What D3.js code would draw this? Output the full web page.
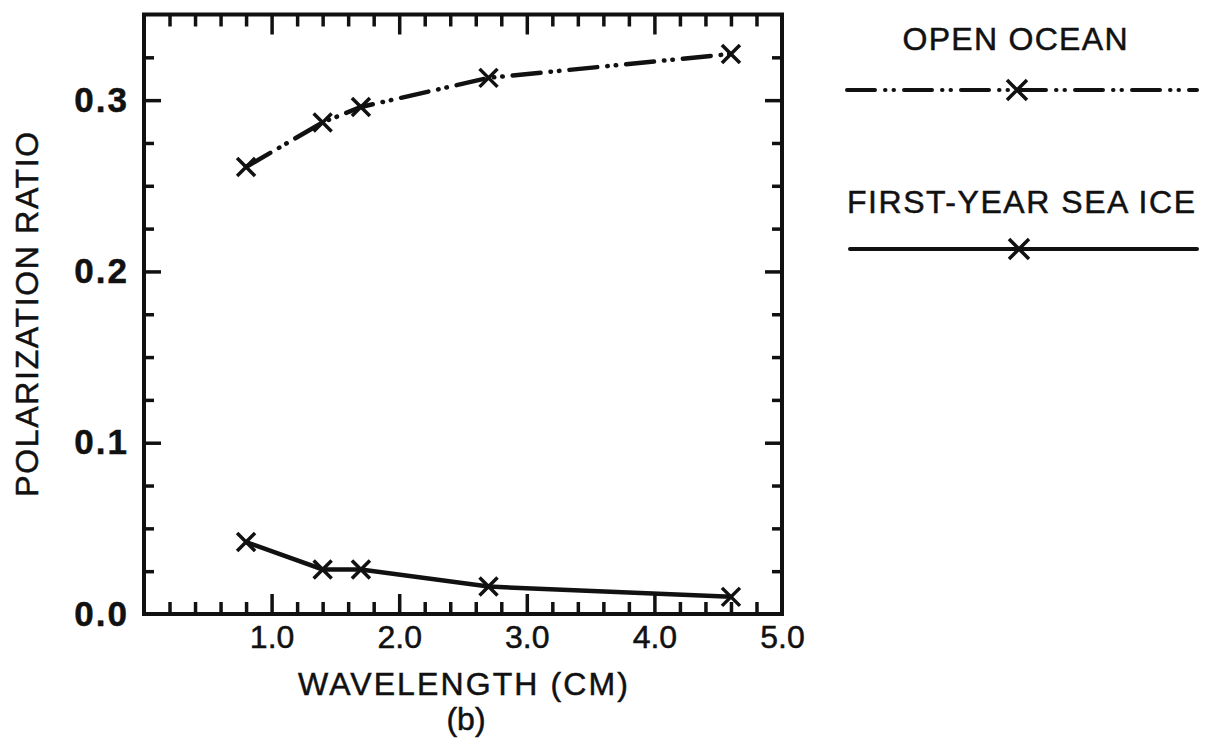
<!DOCTYPE html>
<html>
<head>
<meta charset="utf-8">
<script src="https://cdn.jsdelivr.net/npm/d3@7"></script>
<style>
  body { margin: 0; background: #fff; }
  text { font-family: "Liberation Sans", Arial, Helvetica, sans-serif; fill: #111; stroke: #111; stroke-width: 0.5; }
</style>
</head>
<body>
<svg id="Vis" width="1208" height="738"></svg>
<script>
// values
var wavelength = [0.8, 1.4, 1.7, 2.7, 4.6];
var openOcean  = [0.261, 0.287, 0.296, 0.313, 0.327];
var seaIce     = [0.042, 0.026, 0.026, 0.016, 0.010];

var xLabelTicks = [1, 2, 3, 4, 5];
var yLabelTicks = [0, 0.1, 0.2, 0.3];
var legendNames = ["OPEN OCEAN", "FIRST-YEAR SEA ICE"];

var svg = d3.select("#Vis");

var x = d3.scaleLinear().domain([0, 5]).range([144, 782]);
var y = d3.scaleLinear().domain([0, 0.35]).range([614, 14.5]);

var xMajor = [1, 2, 3, 4];
var xMinor = d3.range(1, 25).map(function(i){ return i * 0.2; })
               .filter(function(v){ return Math.abs(v - Math.round(v)) > 0.01; });
var yMajor = [0.1, 0.2, 0.3];
var yMinor = d3.range(1, 14).map(function(i){ return i * 0.025; })
               .filter(function(v){ return Math.abs(v * 10 - Math.round(v * 10)) > 0.01; });

var dashDotDot = "28 10 0.5 8 0.5 10";

function tickAxis(axisFn, scale, values, len){
  return axisFn(scale).tickValues(values).tickSizeInner(-len).tickSizeOuter(0).tickFormat("");
}

function addTicks(axis, tx, ty){
  var g = svg.append("g")
     .attr("transform", "translate(" + tx + "," + ty + ")")
     .call(axis);
  g.select(".domain").remove();
  g.selectAll("line").attr("stroke", "#111").attr("stroke-width", 3.5);
  return g;
}

// inward ticks on all four sides
addTicks(tickAxis(d3.axisBottom, x, xMinor, 12), 0, y(0));
addTicks(tickAxis(d3.axisBottom, x, xMajor, 20), 0, y(0));
addTicks(tickAxis(d3.axisTop, x, xMinor, 12), 0, y(0.35));
addTicks(tickAxis(d3.axisTop, x, xMajor, 20), 0, y(0.35));
addTicks(tickAxis(d3.axisLeft, y, yMinor, 10), x(0), 0);
addTicks(tickAxis(d3.axisLeft, y, yMajor, 17), x(0), 0);
addTicks(tickAxis(d3.axisRight, y, yMinor, 10), x(5), 0);
addTicks(tickAxis(d3.axisRight, y, yMajor, 17), x(5), 0);

// frame
svg.append("rect")
   .attr("x", x(0)).attr("y", y(0.35))
   .attr("width", x(5) - x(0)).attr("height", y(0) - y(0.35))
   .attr("fill", "none").attr("stroke", "#111").attr("stroke-width", 4);

// tick labels
var gx = svg.append("g")
   .attr("transform", "translate(0," + y(0) + ")")
   .call(d3.axisBottom(x).tickValues(xLabelTicks).tickSize(0).tickPadding(11).tickFormat(d3.format(".1f")));
gx.select(".domain").remove();
gx.selectAll("text").attr("font-size", 32).attr("font-family", null).attr("fill", null);

var gy = svg.append("g")
   .attr("transform", "translate(" + x(0) + ",0)")
   .call(d3.axisLeft(y).tickValues(yLabelTicks).tickSize(0).tickPadding(15).tickFormat(d3.format(".1f")));
gy.select(".domain").remove();
gy.selectAll("text").attr("font-size", 35).attr("font-weight", "bold")
   .attr("letter-spacing", 2).attr("font-family", null).attr("fill", null);

// axis titles
svg.append("text")
   .attr("x", 463).attr("y", 695)
   .attr("text-anchor", "middle").attr("font-size", 32)
   .attr("textLength", 330).attr("lengthAdjust", "spacing")
   .text("WAVELENGTH (CM)");

svg.append("text")
   .attr("x", 466).attr("y", 730)
   .attr("text-anchor", "middle").attr("font-size", 32)
   .text("(b)");

svg.append("text")
   .attr("transform", "translate(38," + (y(0) + y(0.35)) / 2 + ") rotate(-90)")
   .attr("text-anchor", "middle").attr("font-size", 32)
   .attr("textLength", 365).attr("lengthAdjust", "spacing")
   .text("POLARIZATION RATIO");

// series
var line = d3.line()
   .x(function(d){ return x(d[0]); })
   .y(function(d){ return y(d[1]); });

function drawCross(g, cx, cy, r, w){
  g.append("path")
   .attr("d", "M" + (cx - r) + "," + (cy - r) + "L" + (cx + r) + "," + (cy + r) +
              "M" + (cx - r) + "," + (cy + r) + "L" + (cx + r) + "," + (cy - r))
   .attr("stroke", "#111").attr("stroke-width", w).attr("fill", "none");
}

var seriesList = [
  {name: legendNames[0], values: openOcean, dash: dashDotDot},
  {name: legendNames[1], values: seaIce, dash: null}
];

seriesList.forEach(function(s){
  var pts = wavelength.map(function(w, i){ return [w, s.values[i]]; });
  var g = svg.append("g");
  g.append("path")
   .datum(pts)
   .attr("d", line)
   .attr("fill", "none")
   .attr("stroke", "#111")
   .attr("stroke-width", 4.5)
   .attr("stroke-linecap", "round")
   .attr("stroke-dasharray", s.dash);
  pts.forEach(function(p){ drawCross(g, x(p[0]), y(p[1]), 9, 3.5); });
});

// legend
var legendRows = [
  {textX: 1015, textY: 50, textLen: 225, lineY: 90, x1: 847, x2: 1197, cross: 1017},
  {textX: 1021, textY: 213, textLen: 348, lineY: 249, x1: 850, x2: 1197, cross: 1019}
];

legendRows.forEach(function(r, i){
  var g = svg.append("g").attr("class", "legend");
  g.append("text")
   .attr("x", r.textX).attr("y", r.textY)
   .attr("text-anchor", "middle").attr("font-size", 32)
   .attr("textLength", r.textLen).attr("lengthAdjust", "spacing")
   .text(legendNames[i]);
  g.append("line")
   .attr("x1", r.x1).attr("x2", r.x2)
   .attr("y1", r.lineY).attr("y2", r.lineY)
   .attr("stroke", "#111").attr("stroke-width", 4)
   .attr("stroke-linecap", "round")
   .attr("stroke-dasharray", seriesList[i].dash);
  drawCross(g, r.cross, r.lineY, 10, 3.5);
});
</script>
</body>
</html>
